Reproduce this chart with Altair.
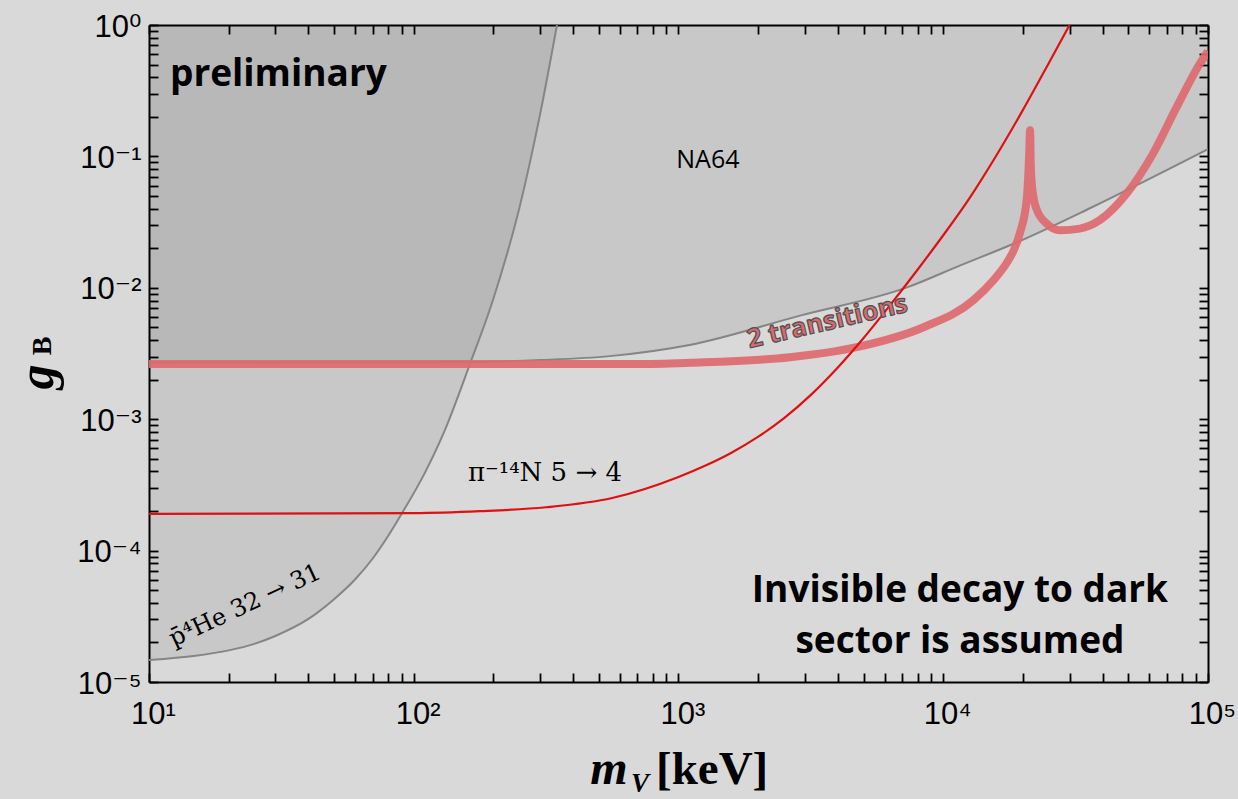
import altair as alt
import pandas as pd

# ---------------- data ----------------
# NA64 exclusion boundary (gray line, shaded above)
na64_m = [10, 150, 300, 550, 1100, 2900, 7300, 11600, 19000, 35800, 100000]
na64_g = [2.70e-3, 2.72e-3, 2.82e-3, 3.02e-3, 3.67e-3, 6.17e-3, 1.007e-2, 1.48e-2, 2.22e-2, 4.03e-2, 0.1135]

# antiprotonic helium 32 -> 31 boundary (gray line, shaded above)
pbar_m = [10, 15, 20, 25, 30, 40, 50, 60, 70, 80, 90, 110, 130, 163, 200, 250, 300, 347.5]
pbar_g = [1.47e-5, 1.585e-5, 1.74e-5, 1.95e-5, 2.24e-5, 3.02e-5, 4.27e-5, 6.03e-5, 8.71e-5,
          1.29e-4, 1.905e-4, 3.89e-4, 7.94e-4, 2.63e-3, 8.3e-3, 3.98e-2, 0.209, 1.0]

# pionic nitrogen 5 -> 4 (thin red)
pin_m = [10, 100, 178, 316, 562, 1000, 1259, 1585, 1995, 2512, 3162, 3981, 5012, 6310, 7943,
         10000, 12589, 15849, 19953, 25119, 30000]
pin_g = [1.905e-4, 1.928e-4, 1.995e-4, 2.138e-4, 2.512e-4, 3.631e-4, 4.416e-4, 5.559e-4,
         7.328e-4, 1.023e-3, 1.531e-3, 2.455e-3, 4.169e-3, 7.413e-3, 1.349e-2, 2.512e-2,
         4.842e-2, 0.1012, 0.2239, 0.5188, 1.0]

# 2 transitions (thick pink)
two_m = [10, 700, 1105, 2636, 4710, 8420, 12970, 15460, 17380, 18500, 19500, 20660, 21100,
         21280, 21400, 21700, 22500, 24600, 27600, 32800, 39000, 49300, 62000, 76200, 93300,
         100000]
two_g = [2.63e-3, 2.63e-3, 2.69e-3, 2.96e-3, 3.53e-3, 5.01e-3, 8.02e-3, 1.14e-2, 1.55e-2,
         1.95e-2, 2.63e-2, 4.68e-2, 0.1, 0.158, 0.089, 5.62e-2, 3.98e-2, 3.08e-2, 2.74e-2,
         2.82e-2, 3.27e-2, 5.21e-2, 0.105, 0.238, 0.51, 0.63]

x_major = [10, 100, 1000, 10000, 100000]
y_major = [1e-5, 1e-4, 1e-3, 1e-2, 1e-1, 1]
x_ticks = [k * 10 ** d for d in range(1, 5) for k in range(1, 10)] + [100000]
y_ticks = [k * 10.0 ** d for d in range(-5, 0) for k in range(1, 10)] + [1]

# annotations (label, position in data coordinates)
ann_prelim = pd.DataFrame({"m": [12.0], "g": [0.416], "label": ["preliminary"]})
ann_na64 = pd.DataFrame({"m": [1291], "g": [0.0935], "label": ["NA64"]})
ann_two = pd.DataFrame({"m": [3650], "g": [5.5e-3], "label": ["2 transitions"]})
ann_pin = pd.DataFrame({"m": [313], "g": [3.92e-4], "label": ["π⁻¹⁴N 5 → 4"]})
ann_pbar = pd.DataFrame({"m": [23.1], "g": [3.8e-5], "label": ["p̄⁴He 32 → 31"]})
ann_inv = pd.DataFrame({"m": [11560], "g": [4.94e-5], "label": ["Invisible decay to dark\nsector is assumed"]})

# ---------------- layout ----------------
W, H = 1059, 657
BG = "#d9d9d9"

df_na64 = pd.DataFrame({"m": na64_m, "g": na64_g})
df_pbar = pd.DataFrame({"m": pbar_m, "g": pbar_g})
df_pin = pd.DataFrame({"m": pin_m, "g": pin_g})
df_two = pd.DataFrame({"m": two_m, "g": two_g})

xs = alt.Scale(type="log", domain=[10, 100000])
ys = alt.Scale(type="log", domain=[1e-5, 1])

LABEL_FONT = "Liberation Sans, Arial, DejaVu Sans"

x_label_axis = alt.Axis(orient="bottom", values=x_major,
                        labelExpr="['10¹','10²','10³','10⁴','10⁵'][round(log(datum.value)/LN10)-1]",
                        ticks=False, tickSize=0, domain=True, domainColor="black", domainWidth=2,
                        labelPadding=17, labelFontSize=31, labelFont=LABEL_FONT, labelColor="black",
                        labelFlush=False, labelOverlap=False, labelOffset=4, grid=False, title=None)
y_label_axis = alt.Axis(orient="left", values=y_major,
                        labelExpr="['10⁻⁵','10⁻⁴','10⁻³','10⁻²','10⁻¹','10⁰'][round(log(datum.value)/LN10)+5]",
                        ticks=False, tickSize=0, domain=True, domainColor="black", domainWidth=2,
                        labelPadding=8, labelFontSize=31, labelFont=LABEL_FONT, labelColor="black",
                        labelFlush=False, labelOverlap=False, labelOffset=2, grid=False, title=None)

tick_style = dict(labels=False, ticks=True, tickSize=9, tickWidth=1.8, tickColor="black",
                  grid=False, title=None)
x_tick_bottom = alt.Axis(orient="top", offset=-H, values=x_ticks, domain=False, **tick_style)
y_tick_left = alt.Axis(orient="right", offset=-W, values=y_ticks, domain=False, **tick_style)
x_tick_top = alt.Axis(orient="bottom", offset=-H, values=x_ticks, domain=True,
                      domainColor="black", domainWidth=2, **tick_style)
y_tick_right = alt.Axis(orient="left", offset=-W, values=y_ticks, domain=True,
                        domainColor="black", domainWidth=2, **tick_style)


def enc(chart, xaxis=None, yaxis=None):
    return chart.encode(
        x=alt.X("m:Q", scale=xs, axis=xaxis),
        y=alt.Y("g:Q", scale=ys, axis=yaxis),
    )


na64_area = enc(alt.Chart(df_na64).mark_area(color="black", opacity=0.08, clip=True,
                                             interpolate="monotone"),
                x_label_axis, y_label_axis).encode(y2=alt.datum(1))
pbar_area = enc(alt.Chart(df_pbar).mark_area(color="black", opacity=0.08, clip=True,
                                             interpolate="monotone"),
                x_tick_bottom, y_tick_left).encode(y2=alt.datum(1))

na64_line = enc(alt.Chart(df_na64).mark_line(color="#858585", strokeWidth=2, clip=True,
                                             interpolate="monotone"),
                x_tick_top, y_tick_right)
pbar_line = enc(alt.Chart(df_pbar).mark_line(color="#858585", strokeWidth=2, clip=True,
                                             interpolate="monotone"))
two_line = enc(alt.Chart(df_two).mark_line(color="#de6a6f", strokeWidth=8, opacity=0.92,
                                           clip=True, interpolate="monotone"))
pin_line = enc(alt.Chart(df_pin).mark_line(color="#dd1111", strokeWidth=2.2, clip=True,
                                           interpolate="monotone"))

SANS = "Open Sans, Noto Sans, DejaVu Sans"
SERIF = "DejaVu Serif, Liberation Serif"

t_prelim = enc(alt.Chart(ann_prelim).mark_text(align="left", baseline="middle", font=SANS,
                                               fontWeight="bold", fontSize=37, color="black")
               ).encode(text="label:N")
t_na64 = enc(alt.Chart(ann_na64).mark_text(align="center", baseline="middle", font=SANS,
                                           fontSize=25, color="black")).encode(text="label:N")
t_two = enc(alt.Chart(ann_two).mark_text(align="center", baseline="middle", font=SANS,
                                         fontWeight="bold", fontSize=26, angle=347,
                                         color="#de6a6f", stroke="#505050", strokeWidth=1.2)
            ).encode(text="label:N")
t_pin = enc(alt.Chart(ann_pin).mark_text(align="center", baseline="middle", font=SERIF,
                                         fontSize=26, color="black")).encode(text="label:N")
t_pbar = enc(alt.Chart(ann_pbar).mark_text(align="center", baseline="middle", font=SERIF,
                                           fontSize=24, angle=335, color="black")
             ).encode(text="label:N")
t_inv = enc(alt.Chart(ann_inv).mark_text(align="center", baseline="middle", font=SANS,
                                         fontWeight="bold", fontSize=37, lineHeight=51,
                                         lineBreak="\n", color="black")).encode(text="label:N")

# axis titles (placed in the margin, in pixels relative to the plot area)
one = pd.DataFrame({"t": [""]})
title_font = "Liberation Serif, DejaVu Serif"
y_t1 = alt.Chart(one).mark_text(text="g", font=title_font, fontSize=50, fontWeight="bold",
                                fontStyle="italic", angle=270, align="center",
                                baseline="middle", color="black").encode(
    x=alt.value(-111), y=alt.value(352))
y_t2 = alt.Chart(one).mark_text(text="B", font=title_font, fontSize=28, fontWeight="bold",
                                angle=270, align="center", baseline="middle",
                                color="black").encode(x=alt.value(-106), y=alt.value(321))
x_t1 = alt.Chart(one).mark_text(text="m", font=title_font, fontSize=48, fontWeight="bold",
                                fontStyle="italic", align="center", baseline="middle",
                                color="black").encode(x=alt.value(460), y=alt.value(745))
x_t2 = alt.Chart(one).mark_text(text="V", font=title_font, fontSize=27, fontWeight="bold",
                                fontStyle="italic", align="center", baseline="middle",
                                color="black").encode(x=alt.value(491), y=alt.value(759))
x_t3 = alt.Chart(one).mark_text(text="[keV]", font=title_font, fontSize=47, fontWeight="bold",
                                align="left", baseline="middle",
                                color="black").encode(x=alt.value(507), y=alt.value(745))

chart = alt.layer(
    na64_area, pbar_area, na64_line, pbar_line, two_line, pin_line,
    t_prelim, t_na64, t_two, t_pin, t_pbar, t_inv,
    y_t1, y_t2, x_t1, x_t2, x_t3,
).resolve_axis(
    x="independent", y="independent"
).properties(
    width=W, height=H,
    autosize=alt.AutoSizeParams(type="none"),
    padding={"left": 149, "top": 25, "right": 30, "bottom": 117},
).configure(
    background=BG
).configure_view(
    strokeWidth=0
)

chart.save("out.html", embed_options={"renderer": "svg", "actions": False})
